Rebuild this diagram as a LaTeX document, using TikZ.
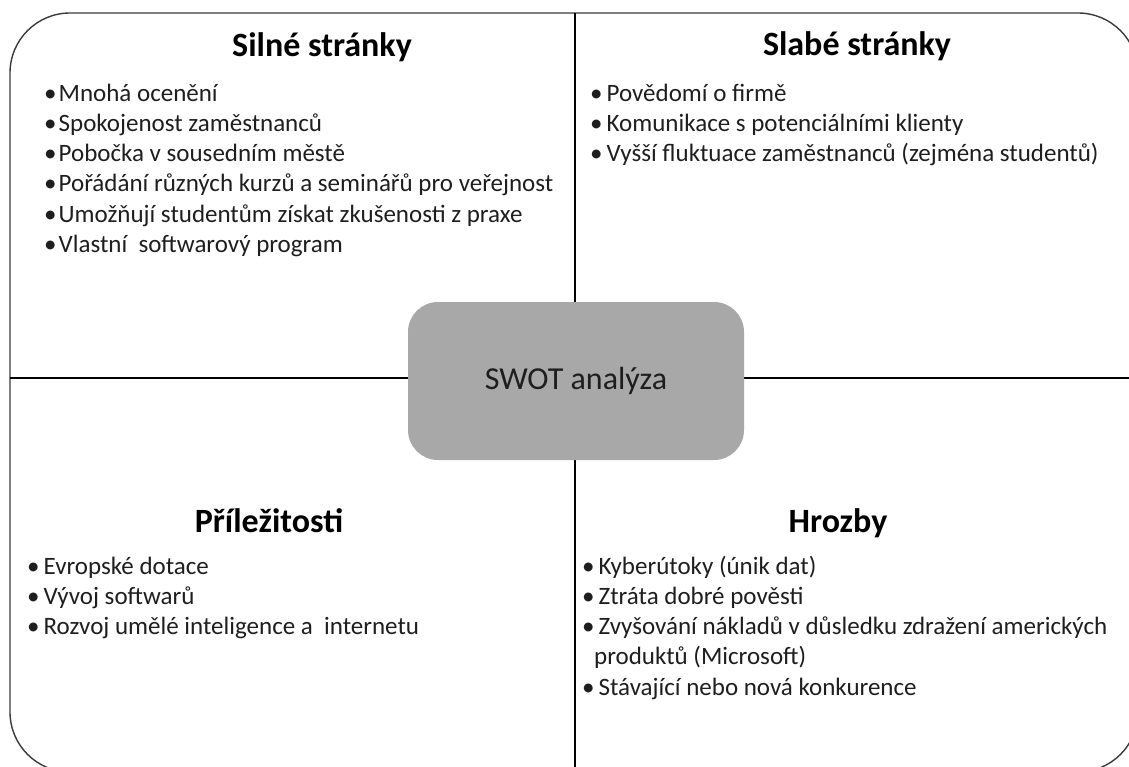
\documentclass[tikz,border=0pt]{standalone}
\usepackage{fontspec}
\setmainfont{Carlito}
\definecolor{frm}{HTML}{3A3A3A}
\definecolor{boxgray}{HTML}{A8A8A8}
\definecolor{txt}{HTML}{1E1E1E}
\begin{document}
\begin{tikzpicture}[x=1pt,y=-1pt,
  body/.style={anchor=base west, inner sep=0pt, font=\fontsize{25}{30}\selectfont, text=txt},
  head/.style={anchor=base, inner sep=0pt, font=\fontsize{34}{40}\selectfont\bfseries, text=black},
  frameline/.style={draw=frm, line width=1.4pt},
  divline/.style={draw=black, line width=1.2pt},
  centerbox/.style={fill=boxgray, rounded corners=30pt, minimum width=336pt, minimum height=158pt, inner sep=0pt, font=\fontsize{32}{38}\selectfont, text=txt}]
\useasboundingbox (0,0) rectangle (1129,767);
\begin{scope}
\clip (0,0) rectangle (1129,767);
\draw[frameline, rounded corners=60pt] (10,13) rectangle (1138,772);
\coordinate (vt) at (575,13);
\coordinate (vb) at (575,772);
\coordinate (hl) at (10,378);
\coordinate (hr) at (1138,378);
\draw[divline] (vt) -- (vb);
\draw[divline] (hl) -- (hr);
\end{scope}
\node[centerbox] (swot) at (576,381) {SWOT analýza};

% Strengths
\node[head] (hS) at (322,57) {Silné stránky};
\node[body] (s1) at (44,102) {•\kern2pt Mnohá ocenění};
\node[body] (s2) at (44,132) {•\kern2pt Spokojenost zaměstnanců};
\node[body] (s3) at (44,162) {•\kern2pt Pobočka v sousedním městě};
\node[body] (s4) at (44,192) {•\kern2pt Pořádání různých kurzů a seminářů pro veřejnost};
\node[body] (s5) at (44,223) {•\kern2pt Umožňují studentům získat zkušenosti z praxe};
\node[body] (s6) at (44,253) {•\kern2pt Vlastní\ \ softwarový program};

% Weaknesses
\node[head] (hW) at (857,56) {Slabé stránky};
\node[body] (w1) at (590,102) {•\kern4pt Povědomí o firmě};
\node[body] (w2) at (590,132) {•\kern4pt Komunikace s potenciálními klienty};
\node[body] (w3) at (590,162) {•\kern4pt Vyšší fluktuace zaměstnanců (zejména studentů)};

% Opportunities
\node[head] (hO) at (269,532) {Příležitosti};
\node[body] (o1) at (27,574) {•\kern4pt Evropské dotace};
\node[body] (o2) at (27,604) {•\kern4pt Vývoj softwarů};
\node[body] (o3) at (27,634) {•\kern4pt Rozvoj umělé inteligence a\ \ internetu};

% Threats
\node[head] (hT) at (838,532) {Hrozby};
\node[body] (t1) at (582,574) {•\kern4pt Kyberútoky (únik dat)};
\node[body] (t2) at (582,604) {•\kern4pt Ztráta dobré pověsti};
\node[body] (t3) at (582,634) {•\kern4pt Zvyšování nákladů v důsledku zdražení amerických};
\node[body] (t3b) at (594,664) {produktů (Microsoft)};
\node[body] (t4) at (582,695) {•\kern4pt Stávající nebo nová konkurence};
\end{tikzpicture}
\end{document}
